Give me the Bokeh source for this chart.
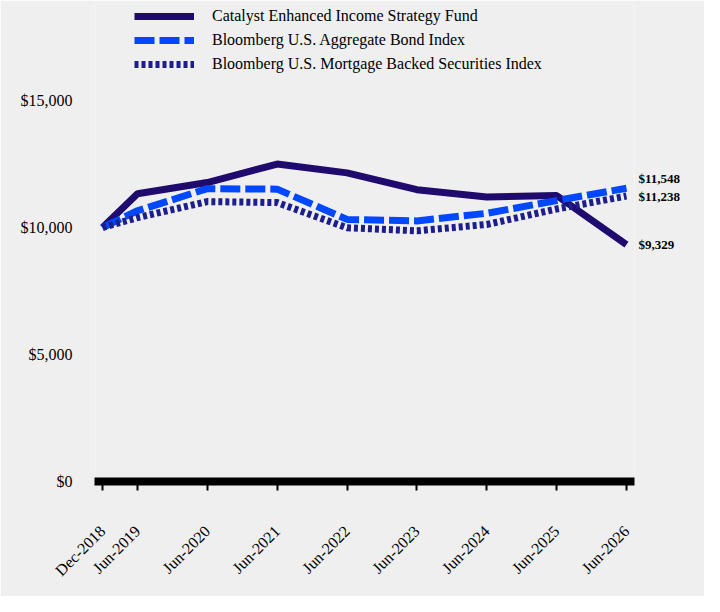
import math
import pandas as pd
from bokeh.plotting import figure
from bokeh.models import (Range1d, FixedTicker, NumeralTickFormatter, Legend, LegendItem, LinearAxis)
from bokeh.embed import file_html
from bokeh.resources import INLINE

# ---- data ----
period_labels = ["Dec-2018", "Jun-2019", "Jun-2020", "Jun-2021", "Jun-2022",
                 "Jun-2023", "Jun-2024", "Jun-2025", "Jun-2026"]
period_dates = ["2018-12", "2019-06", "2020-06", "2021-06", "2022-06",
                "2023-06", "2024-06", "2025-06", "2026-06"]
fund = [10000, 11330, 11770, 12500, 12150, 11490, 11200, 11260, 9329]
agg = [10000, 10660, 11530, 11510, 10320, 10260, 10560, 11060, 11548]
mbs = [10000, 10390, 11020, 10980, 9990, 9870, 10120, 10730, 11238]
series_names = ["Catalyst Enhanced Income Strategy Fund",
                "Bloomberg U.S. Aggregate Bond Index",
                "Bloomberg U.S. Mortgage Backed Securities Index"]
end_labels = ["$11,548", "$11,238", "$9,329"]
y_ticks = [0, 5000, 10000, 15000]

# ---- derived positions (years since first date) ----
d = pd.to_datetime(period_dates)
x = [((t.year - d[0].year) * 12 + (t.month - d[0].month)) / 12.0 for t in d]

BG = "#efefef"
C_FUND = "#1f0a6e"
C_AGG = "#0048ff"
C_MBS = "#1d1d8c"
FONT = "Liberation Serif"

Y_END = 18780
FRAME_H = 596 - 4 - 115

p = figure(width=704, height=596, output_backend="svg", toolbar_location=None,
           x_range=Range1d(x[0] - 0.115, x[-1] + 0.115),
           y_range=Range1d(0, Y_END),
           min_border_left=94, min_border_right=70, min_border_top=4, min_border_bottom=115,
           background_fill_color=BG, border_fill_color=BG, outline_line_color=None)

p.xgrid.visible = False
p.ygrid.visible = False

r_fund = p.line(x, fund, line_color=C_FUND, line_width=7)
r_agg = p.line(x, agg, line_color=C_AGG, line_width=7, line_dash="20 5")
r_mbs = p.line(x, mbs, line_color=C_MBS, line_width=7, line_dash="4 3")

# end labels as a right-side axis (first label nudged up 10px to avoid overlap)
units_per_px = Y_END / FRAME_H
end_values = [agg[-1], mbs[-1], fund[-1]]
end_nudge_px = [10, 0, 0]
end_pos = [v + n * units_per_px for v, n in zip(end_values, end_nudge_px)]
ra = LinearAxis(ticker=FixedTicker(ticks=end_pos),
                major_label_overrides={pos: t for pos, t in zip(end_pos, end_labels)},
                axis_line_color=None, major_tick_line_color=None, minor_tick_line_color=None,
                major_label_standoff=-2,
                major_label_text_font=FONT, major_label_text_font_size="13px",
                major_label_text_font_style="bold", major_label_text_color="black")
p.add_layout(ra, "right")

# x axis
xa = p.xaxis[0]
xa.ticker = FixedTicker(ticks=x)
xa.major_label_overrides = {xi: lab for xi, lab in zip(x, period_labels)}
xa.major_label_orientation = math.pi / 4
xa.axis_line_width = 8
xa.axis_line_color = "black"
xa.axis_line_cap = "butt"
xa.major_tick_line_width = 2
xa.major_tick_line_color = "black"
xa.major_tick_in = 0
xa.major_tick_out = 9
xa.minor_tick_line_color = None
xa.major_label_standoff = 38
xa.major_label_text_font = FONT
xa.major_label_text_font_size = "16px"
xa.major_label_text_color = "black"

# y axis
ya = p.yaxis[0]
ya.ticker = FixedTicker(ticks=y_ticks)
ya.formatter = NumeralTickFormatter(format="$0,0")
ya.axis_line_color = None
ya.major_tick_line_color = None
ya.minor_tick_line_color = None
ya.major_label_standoff = 16
ya.major_label_text_font = FONT
ya.major_label_text_font_size = "16px"
ya.major_label_text_color = "black"

legend = Legend(items=[LegendItem(label=series_names[0], renderers=[r_fund]),
                       LegendItem(label=series_names[1], renderers=[r_agg]),
                       LegendItem(label=series_names[2], renderers=[r_mbs])],
                location=(40, 405), orientation="vertical",
                background_fill_alpha=0, border_line_color=None,
                glyph_width=60, glyph_height=24, label_height=24, spacing=0,
                padding=0, margin=0, label_standoff=18,
                label_text_font=FONT, label_text_font_size="16px",
                label_text_color="black")
p.add_layout(legend)

open("out.html", "w").write(file_html(p, INLINE))
